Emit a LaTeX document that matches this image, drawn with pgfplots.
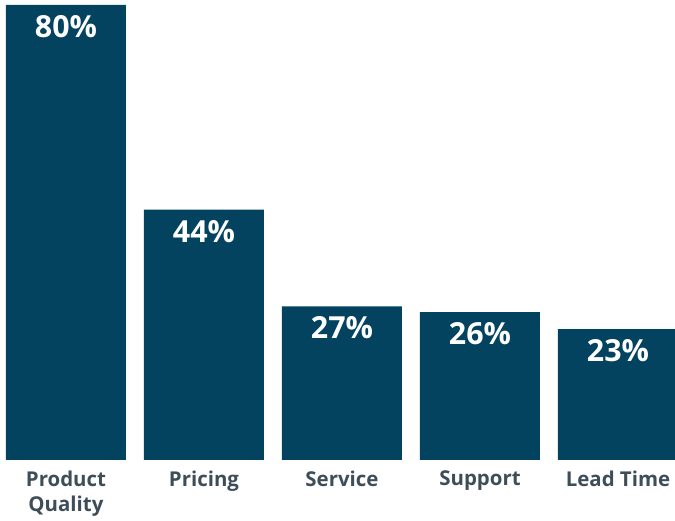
\documentclass[border=0pt]{standalone}
\usepackage{pgfplots}
\pgfplotsset{compat=1.18}
\usepackage{fontspec}
\setmainfont{Open Sans}
\definecolor{barc}{HTML}{03435F}
\definecolor{labc}{HTML}{3E4E59}
\begin{document}
\begin{tikzpicture}[x=1bp,y=1bp]
\begin{axis}[
  at={(0,0)}, anchor=south west,
  scale only axis,
  width=678bp, height=460bp,
  xmin=-0.478, xmax=4.435,
  ymin=0, ymax=80.88,
  axis lines=none,
  clip=false,
  ybar, bar width=120bp,
  bar shift=0pt,
  xtick=\empty,
  ytick=\empty,
  /pgf/number format/assume math mode=true,
  nodes near coords={\pgfmathprintnumber{\pgfplotspointmeta}\%},
  nodes near coords style={anchor=north, yshift=-7bp, font=\fontsize{30.5}{34}\selectfont\bfseries, text=white},
]
\addplot[fill=barc, draw=none] coordinates {(0,80) (1,44) (2,27) (3,26) (4,23)};
\foreach \i/\l in {0/{Product\\Quality},1/Pricing,2/Service,3/Support,4/Lead Time}{
  \edef\tmp{\noexpand\node[anchor=north, align=center, font=\noexpand\fontsize{20.5}{25.5}\noexpand\selectfont\noexpand\bfseries, text=labc, inner sep=0pt] at (axis cs:\i,0) [yshift=-10.5bp] {\unexpanded\expandafter{\l}};}
  \tmp
}
\end{axis}
\pgfresetboundingbox
\path (0,-61) rectangle (675,460);
\end{tikzpicture}
\end{document}
